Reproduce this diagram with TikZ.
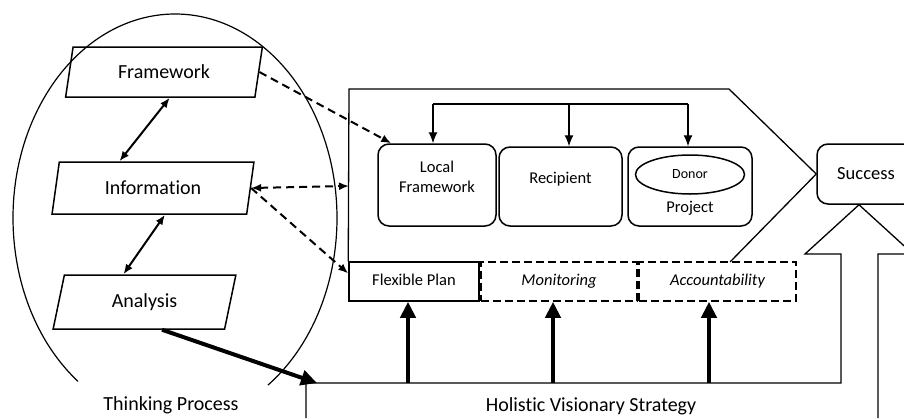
\documentclass[tikz,border=0pt]{standalone}
\usepackage{fontspec}
\setmainfont{Carlito}[Ligatures=NoCommon]
\usetikzlibrary{shapes.geometric,arrows.meta,calc}

\tikzset{
  para/.style={trapezium, trapezium left angle=75, trapezium right angle=105, trapezium stretches=true, draw, line width=1.5pt, inner sep=0pt, font=\fontsize{20}{24}\selectfont},
  rbox/.style={draw, rounded corners=11pt, line width=1.5pt, align=center, inner sep=0pt, font=\fontsize{16.5}{20}\selectfont},
  planbox/.style={draw, line width=1.5pt, minimum height=39pt, inner sep=0pt, text height=12pt, text depth=4pt, font=\fontsize{16.5}{20}\selectfont},
  dplanbox/.style={planbox, dash pattern=on 8pt off 4pt, font=\fontsize{16.5}{20}\selectfont\itshape},
  dblarrow/.style={{Latex[length=10pt,width=8pt]}-{Latex[length=10pt,width=8pt]}, line width=2pt},
  dsharrow/.style={-{Latex[length=10pt,width=8pt]}, line width=2pt, dash pattern=on 8pt off 5pt},
  ddsharrow/.style={dsharrow, {Latex[length=10pt,width=8pt]}-{Latex[length=10pt,width=8pt]}},
  fatarrow/.style={-{Triangle[length=16pt,width=15pt]}, line width=4pt},
  bararrow/.style={-{Latex[length=11pt,width=9pt]}, line width=1.2pt},
  bigtxt/.style={font=\fontsize{20}{24}\selectfont, inner sep=0.75pt}
}

\begin{document}
\begin{tikzpicture}[x=1pt,y=1pt,yscale=-1,xscale=1]
\useasboundingbox (0,0) rectangle (904,418);

%Shape: Ellipse, open at the bottom
\draw[line width=1.2pt] (175,218) ++(126.8:162 and 204) arc[start angle=126.8, end angle=415, x radius=162, y radius=204];

%Shape: Parallelograms
\node[para, minimum width=198pt, minimum height=50pt] (frame) at (164,72) {Framework};
\node[para, minimum width=202pt, minimum height=52pt] (info) at (153,188) {Information};
\node[para, minimum width=183pt, minimum height=54pt] (ana) at (144.5,302) {Analysis};

%Shape: Rounded Rectangles
\node[rbox, minimum width=118pt, minimum height=82pt, text depth=16pt] (loc) at (437,185) {Local\\Framework};
\node[rbox, minimum width=123pt, minimum height=79pt, text depth=18pt] (rec) at (560.5,186.5) {Recipient};
\node[rbox, minimum width=124pt, minimum height=79pt] (proj) at (690,186.5) {};
\node[draw, ellipse, line width=1.5pt, minimum width=109pt, minimum height=39pt, inner sep=0pt, font=\fontsize{14}{16}\selectfont] (donor) at (690,174.5) {Donor};
\node[font=\fontsize{16.5}{20}\selectfont, inner sep=0.75pt] (projlbl) at (690,208) {Project};
\node[rbox, minimum width=98pt, minimum height=60pt, font=\fontsize{18.5}{22}\selectfont] (succ) at (866,174) {Success};

%Shape: Plan boxes
\node[planbox, minimum width=130pt] (flex) at (414,281.5) {Flexible Plan};
\node[dplanbox, minimum width=156pt] (mon) at (559,281.5) {Monitoring};
\node[dplanbox, minimum width=157pt] (acc) at (717.5,281.5) {Accountability};

%Shape: Pentagon
\coordinate (stratin) at (349,186);
\draw[line width=1.3pt] (730,262) -- (succ.west) -- (729,89) -- (349,89) -- (flex.north west);

%Shape: Big Arrow
\coordinate (hvs) at (317,383);
\draw[line width=1.3pt] (306,418) -- (306,383) -- (841,383) -- (841,254) -- (805,254) -- ([xshift=-7pt]succ.south) -- (913,254) -- (878,254) -- (878,418);

%Straight Lines
\coordinate (bara) at (433,104);
\coordinate (barb) at (569,104);
\coordinate (barc) at (688,104);
\draw[line width=1.2pt] (bara) -- (barc);
\foreach \c/\b in {bara/loc, barb/rec, barc/proj}
  \draw[bararrow] (\c) -- (\c |- \b.north);

\coordinate (hvsa) at (408,383);
\coordinate (hvsb) at (553,383);
\coordinate (hvsc) at (709,383);
\foreach \c/\b in {hvsa/flex, hvsb/mon, hvsc/acc}
  \draw[fatarrow] (\c) -- (\c |- \b.south);

\draw[dblarrow] ($(frame.bottom left corner)!0.55!(frame.bottom right corner)$) -- ($(info.top left corner)!0.31!(info.top right corner)$);
\draw[dblarrow] ($(info.bottom left corner)!0.58!(info.bottom right corner)$) -- ($(ana.top left corner)!0.345!(ana.top right corner)$);
\draw[dsharrow] (frame.right side) -- ([xshift=14pt]loc.north west);
\draw[ddsharrow] (info.right side) -- (stratin);
\draw[dsharrow] (info.right side) -- ([yshift=-8pt]flex.west);
\draw[fatarrow] ($(ana.bottom left corner)!0.635!(ana.bottom right corner)$) -- (hvs);

% Text Node
\node[bigtxt] (think) at (171,405) {Thinking Process};
% Text Node
\node[bigtxt] (hvslbl) at (591,406) {Holistic Visionary Strategy};

\end{tikzpicture}
\end{document}
